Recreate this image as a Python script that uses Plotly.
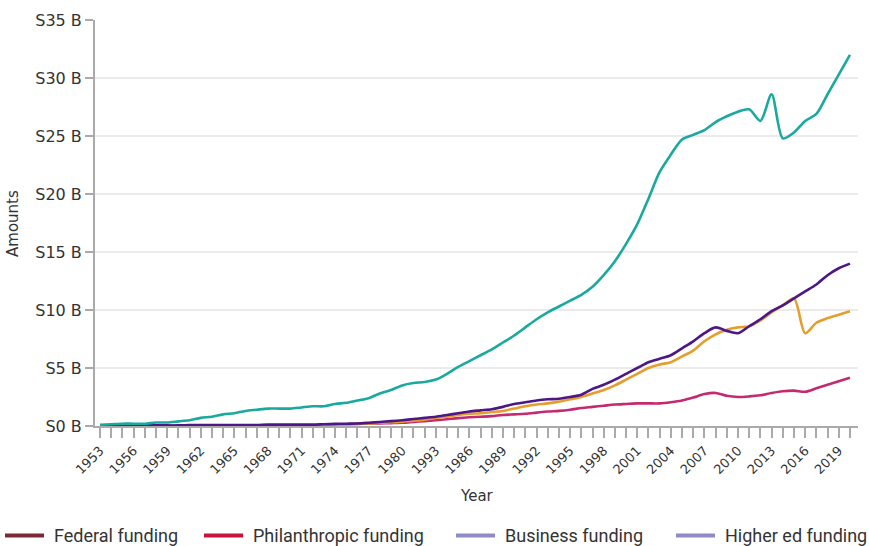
import plotly.graph_objects as go

years = list(range(1953, 2021))

federal = [0.1, 0.15, 0.2, 0.2, 0.2, 0.3, 0.3, 0.4, 0.5, 0.7,
           0.8, 1.0, 1.1, 1.3, 1.4, 1.5, 1.5, 1.5, 1.6, 1.7,
           1.7, 1.9, 2.0, 2.2, 2.4, 2.8, 3.1, 3.5, 3.7, 3.8,
           4.0, 4.5, 5.1, 5.6, 6.1, 6.6, 7.2, 7.8, 8.5, 9.2,
           9.8, 10.3, 10.8, 11.3, 12.0, 13.0, 14.2, 15.7, 17.4, 19.6,
           21.9, 23.4, 24.7, 25.1, 25.5, 26.2, 26.7, 27.1, 27.3, 26.3,
           28.6, 24.8, 25.3, 26.3, 26.9, 28.6, 30.3, 32.0]

higher_ed = [0.05, 0.05, 0.05, 0.05, 0.05, 0.05, 0.05, 0.05, 0.08, 0.08,
             0.08, 0.08, 0.08, 0.08, 0.08, 0.12, 0.12, 0.12, 0.12, 0.12,
             0.15, 0.18, 0.2, 0.22, 0.28, 0.35, 0.42, 0.5, 0.6, 0.7,
             0.8, 0.95, 1.1, 1.25, 1.35, 1.45, 1.65, 1.9, 2.05, 2.2,
             2.3, 2.35, 2.5, 2.7, 3.2, 3.55, 4.0, 4.5, 5.0, 5.5,
             5.8, 6.1, 6.7, 7.3, 8.0, 8.5, 8.2, 8.0, 8.6, 9.2,
             9.9, 10.4, 11.0, 11.6, 12.2, 13.0, 13.6, 14.0]

business = [0.02] * 20 + [
            0.05, 0.08, 0.12, 0.18, 0.22, 0.28, 0.32, 0.38, 0.45, 0.55,
            0.7, 0.8, 0.95, 1.05, 1.1, 1.2, 1.3, 1.5, 1.7, 1.85,
            1.95, 2.1, 2.3, 2.5, 2.8, 3.1, 3.5, 4.0, 4.5, 5.0,
            5.3, 5.5, 6.0, 6.5, 7.3, 7.9, 8.3, 8.5, 8.6, 9.1,
            9.8, 10.4, 11.0, 8.0, 8.9, 9.3, 9.6, 9.9]

philanthropic = [0.03] * 20 + [
                 0.1, 0.15, 0.15, 0.18, 0.2, 0.22, 0.25, 0.28, 0.35, 0.42,
                 0.5, 0.58, 0.68, 0.75, 0.8, 0.85, 0.95, 1.0, 1.05, 1.15,
                 1.25, 1.3, 1.4, 1.55, 1.65, 1.75, 1.85, 1.9, 1.95, 1.95,
                 1.95, 2.05, 2.2, 2.45, 2.75, 2.85, 2.6, 2.5, 2.55, 2.65,
                 2.85, 3.0, 3.05, 2.95, 3.25, 3.55, 3.85, 4.15]

tick_years = list(range(1953, 2020, 3))
tick_labels = ["1953", "1956", "1959", "1962", "1965", "1968", "1971", "1974",
               "1977", "1980", "1993", "1986", "1989", "1992", "1995", "1998",
               "2001", "2004", "2007", "2010", "2013", "2016", "2019"]

y_ticks = [0, 5, 10, 15, 20, 25, 30, 35]
y_labels = ["S0 B", "S5 B", "S10 B", "S15 B", "S20 B", "S25 B", "S30 B", "S35 B"]

legend_names = ["Federal funding", "Philanthropic funding", "Business funding", "Higher ed funding"]
legend_colors = ["#7b2a35", "#c8143c", "#8d8cc6", "#8d8cc6"]

series = [
    ("Philanthropic", philanthropic, "#c42a72"),
    ("Business", business, "#e59e2c"),
    ("Higher ed", higher_ed, "#4c1787"),
    ("Federal", federal, "#1aa99e"),
]

fig = go.Figure()
for name, vals, col in series:
    fig.add_trace(go.Scatter(x=years, y=vals, mode="lines", name=name,
                             line=dict(color=col, width=2.6, shape="spline", smoothing=0.8),
                             showlegend=False, hoverinfo="x+y"))

# plot area in px
L, R, T, B = 95, 858, 14, 426
W, H = R - L, B - T

def px(xp):
    return (xp - L) / W

def py(yp):
    return (B - yp) / H

shapes = []
annotations = []
leg_starts = [5, 204, 456, 676]
leg_y = 537
for x0, name, col in zip(leg_starts, legend_names, legend_colors):
    shapes.append(dict(type="line", xref="paper", yref="paper",
                       x0=px(x0), x1=px(x0 + 39), y0=py(leg_y), y1=py(leg_y),
                       line=dict(color=col, width=4)))
    annotations.append(dict(text=name, xref="paper", yref="paper",
                            x=px(x0 + 47), y=py(leg_y), xanchor="left", yanchor="middle",
                            showarrow=False,
                            font=dict(family="Liberation Sans Narrow, Roboto, sans-serif", size=18, color="#333")))

annotations.append(dict(text="Amounts", xref="paper", yref="paper", x=px(13), y=py(221),
                        textangle=-90, showarrow=False, xanchor="center", yanchor="middle",
                        font=dict(family="DejaVu Sans", size=15, color="#333")))
annotations.append(dict(text="Year", xref="paper", yref="paper", x=px(477), y=py(497),
                        showarrow=False, xanchor="center", yanchor="middle",
                        font=dict(family="DejaVu Sans", size=15, color="#333")))

fig.update_layout(
    width=869, height=546,
    margin=dict(l=L, r=869 - R, t=T, b=546 - B, pad=0),
    paper_bgcolor="white", plot_bgcolor="white",
    shapes=shapes, annotations=annotations,
    showlegend=False,
    xaxis=dict(
        range=[1952.55, 2020.72],
        tickmode="array", tickvals=tick_years, ticktext=tick_labels,
        tickangle=-45, ticks="outside", ticklen=10, tickwidth=2, tickcolor="#aaa",
        minor=dict(dtick=1, tick0=1953, ticks="outside", ticklen=10, tickwidth=2, tickcolor="#aaa", showgrid=False),
        showline=True, linecolor="#aaa", linewidth=2,
        showgrid=False, zeroline=False,
        tickfont=dict(family="DejaVu Sans", size=13, color="#333"),
    ),
    yaxis=dict(
        range=[0, 35],
        tickmode="array", tickvals=y_ticks, ticktext=y_labels,
        ticks="outside", ticklen=8, tickwidth=2, tickcolor="#aaa",
        showline=True, linecolor="#aaa", linewidth=2,
        showgrid=True, gridcolor="#ebebeb", gridwidth=1.5, zeroline=False,
        tickfont=dict(family="DejaVu Sans", size=16, color="#333"),
    ),
)

fig.write_html("out.html")
